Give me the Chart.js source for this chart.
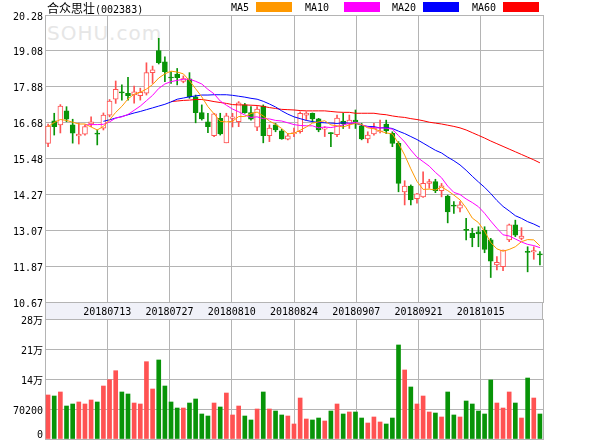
<!DOCTYPE html>
<html>
<head>
<meta charset="utf-8">
<title>合众思壮(002383)</title>
<script src="https://cdn.jsdelivr.net/npm/chart.js@4.4.0/dist/chart.umd.min.js"></script>
<style>
  html, body { margin: 0; padding: 0; background: #fff; }
  #wrap { position: relative; width: 600px; height: 440px; overflow: hidden; }
  #wrap canvas { position: absolute; left: 0; }
  #priceChart { top: 0; }
  #volChart { top: 310px; }
  #logo { position: absolute; left: 47px; top: 21px; font: 20px "DejaVu Sans", sans-serif; letter-spacing: 1px; color: #e6e6e6; }
  #title { position: absolute; left: 47px; top: 1px; font: 12px "Noto Sans CJK SC", sans-serif; line-height: 13px; color: #000; white-space: nowrap; }
  #title span { font: 10px "DejaVu Sans Mono", monospace; }
  .lg { position: absolute; top: 3px; font: 10px "DejaVu Sans Mono", monospace; line-height: 10px; color: #000; }
  .key { position: absolute; top: 2px; width: 36px; height: 10px; }
</style>
</head>
<body>
<div id="wrap">
  <div id="logo">SOHU.com</div>
  <canvas id="priceChart" width="600" height="319"></canvas>
  <canvas id="volChart" width="600" height="130"></canvas>
  <div id="title">合众思壮<span>(002383)</span></div>
</div>
<script>
// daily candles 2018-06-29 .. 2018-10-29, one entry per trading day
const gridDates = ['', '20180713', '20180727', '20180810', '20180824', '20180907', '20180921', '20181015', ''];
const priceTicks = [10.67, 11.87, 13.07, 14.27, 15.48, 16.68, 17.88, 19.08, 20.28];
const volTicks = [0, 70200, 140400, 210600, 280800];
const volTickLabels = ['0', '70200', '14万', '21万', '28万'];

const opens = [15.98, 16.74, 16.60, 17.07, 16.60, 16.23, 16.29, 16.63, 16.31, 16.49,
  16.93, 17.46, 17.71, 17.66, 17.60, 17.58, 17.66, 18.35, 19.09, 18.71,
  18.20, 18.30, 18.06, 18.14, 17.54, 17.01, 16.70, 16.24, 16.82, 16.00,
  16.82, 16.71, 17.27, 17.01, 16.52, 17.23, 16.24, 16.60, 16.40, 16.12,
  16.31, 16.37, 16.93, 16.99, 16.80, 16.46, 16.34, 16.27, 16.73, 16.65,
  16.76, 16.57, 16.13, 16.30, 16.37, 16.63, 16.32, 15.98, 14.36, 14.55,
  14.13, 14.19, 14.64, 14.70, 14.40, 14.22, 13.91, 13.81, 13.10, 12.97,
  13.02, 13.08, 12.75, 11.91, 11.85, 12.75, 13.25, 12.80, 12.36, 12.35, 12.28];
const highs = [16.63, 16.99, 17.28, 17.21, 16.79, 16.66, 16.60, 16.87, 16.43, 17.00,
  17.45, 18.07, 17.94, 18.19, 17.90, 17.83, 18.68, 18.57, 19.50, 18.88,
  18.38, 18.49, 18.24, 18.35, 17.60, 17.27, 16.99, 16.99, 16.99, 16.99,
  16.99, 17.38, 17.32, 17.21, 17.21, 17.27, 16.60, 16.65, 16.45, 16.32,
  16.49, 17.04, 17.04, 17.00, 16.82, 16.54, 16.34, 16.93, 16.99, 16.93,
  17.10, 16.65, 16.37, 16.65, 16.76, 16.76, 16.37, 16.04, 14.73, 14.59,
  14.31, 15.03, 14.78, 14.78, 14.64, 14.25, 14.03, 14.03, 13.47, 13.14,
  13.19, 13.19, 12.80, 12.19, 12.41, 13.28, 13.41, 13.16, 12.52, 12.52, 12.36];
const lows = [15.87, 16.26, 16.33, 16.71, 15.99, 15.96, 16.26, 16.54, 15.93, 16.43,
  16.87, 17.32, 17.43, 17.43, 17.33, 17.43, 17.60, 17.99, 18.64, 18.05,
  17.99, 17.94, 18.01, 17.49, 16.67, 16.76, 16.34, 16.21, 16.26, 16.00,
  16.53, 16.54, 16.99, 16.76, 16.41, 16.00, 16.04, 16.37, 16.12, 16.10,
  16.21, 16.32, 16.76, 16.70, 16.37, 16.21, 15.87, 16.21, 16.48, 16.48,
  16.48, 16.10, 16.00, 16.26, 16.33, 16.31, 15.87, 14.36, 13.92, 13.92,
  13.98, 14.17, 14.48, 14.33, 14.19, 13.32, 13.64, 13.69, 12.75, 12.52,
  12.52, 12.32, 11.49, 11.74, 11.72, 12.69, 12.86, 12.75, 11.68, 12.10, 11.91];
const closes = [16.56, 16.54, 17.23, 16.79, 16.32, 16.29, 16.54, 16.70, 16.29, 16.93,
  17.40, 17.79, 17.67, 17.58, 17.71, 17.69, 18.35, 18.44, 18.68, 18.38,
  18.17, 18.18, 18.15, 17.54, 17.01, 16.80, 16.54, 16.97, 16.30, 16.90,
  16.87, 17.34, 17.01, 16.79, 17.13, 16.24, 16.49, 16.43, 16.13, 16.23,
  16.33, 16.99, 16.99, 16.80, 16.43, 16.48, 16.31, 16.83, 16.63, 16.76,
  16.71, 16.13, 16.26, 16.49, 16.38, 16.40, 15.98, 14.64, 14.55, 14.09,
  14.29, 14.64, 14.70, 14.40, 14.56, 13.69, 13.88, 13.92, 13.07, 12.82,
  12.95, 12.43, 12.04, 12.00, 12.41, 13.25, 12.91, 12.88, 12.33, 12.39, 12.25];
const volumes = [103000, 100600, 110000, 77200, 81900, 86600, 81900, 91300, 86600, 124000,
  138800, 159800, 110000, 105300, 84200, 81900, 180900, 117000, 184900, 124000,
  86600, 72500, 72500, 84200, 93600, 58500, 53800, 84200, 74900, 107600,
  56200, 77200, 53800, 44500, 70200, 110000, 70200, 65500, 56200, 53800,
  35100, 95900, 46800, 44500, 49100, 42100, 65500, 81900, 58500, 63200,
  63200, 49100, 37400, 51500, 39800, 35100, 49100, 220000, 161500, 121700,
  81900, 100600, 63200, 60800, 51500, 110000, 56200, 51500, 88900, 81900,
  65500, 58500, 138100, 84200, 72500, 110000, 84200, 49100, 142700, 95900, 58500];

const ma5 = [16.54, 16.68, 16.78, 16.75, 16.69, 16.63, 16.63, 16.53, 16.43, 16.55,
  16.77, 17.02, 17.22, 17.47, 17.63, 17.69, 17.80, 17.95, 18.17, 18.31,
  18.40, 18.37, 18.31, 18.08, 17.81, 17.54, 17.21, 16.97, 16.72, 16.70,
  16.72, 16.88, 16.88, 16.98, 17.03, 16.90, 16.73, 16.62, 16.48, 16.30,
  16.32, 16.42, 16.53, 16.66, 16.70, 16.74, 16.60, 16.57, 16.53, 16.60,
  16.65, 16.61, 16.50, 16.47, 16.39, 16.33, 16.30, 15.98, 15.59, 15.13,
  14.71, 14.44, 14.45, 14.42, 14.52, 14.40, 14.25, 14.09, 13.82, 13.48,
  13.33, 13.04, 12.66, 12.45, 12.37, 12.43, 12.52, 12.69, 12.76, 12.75, 12.55];
const ma10 = [null, null, null, null, null, null, 16.60, 16.61, 16.61, 16.62,
  16.70, 16.83, 16.87, 16.95, 17.09, 17.23, 17.41, 17.59, 17.82, 17.97,
  18.05, 18.09, 18.13, 18.13, 18.06, 17.97, 17.79, 17.64, 17.40, 17.26,
  17.13, 17.04, 16.93, 16.85, 16.87, 16.81, 16.80, 16.75, 16.73, 16.67,
  16.61, 16.58, 16.57, 16.57, 16.50, 16.53, 16.51, 16.55, 16.60, 16.65,
  16.69, 16.61, 16.53, 16.50, 16.50, 16.49, 16.46, 16.24, 16.03, 15.76,
  15.52, 15.37, 15.22, 15.01, 14.83, 14.55, 14.34, 14.27, 14.12, 14.00,
  13.86, 13.64, 13.38, 13.14, 12.92, 12.88, 12.78, 12.68, 12.60, 12.56, 12.49];
const ma20 = [null, null, null, null, null, null, null, null, null, 16.72,
  16.77, 16.83, 16.88, 16.94, 17.00, 17.05, 17.11, 17.17, 17.23, 17.29,
  17.37, 17.46, 17.50, 17.54, 17.57, 17.60, 17.60, 17.61, 17.61, 17.61,
  17.59, 17.56, 17.53, 17.49, 17.46, 17.39, 17.30, 17.20, 17.07, 16.96,
  16.87, 16.81, 16.75, 16.71, 16.68, 16.67, 16.66, 16.65, 16.67, 16.66,
  16.65, 16.59, 16.55, 16.54, 16.50, 16.51, 16.48, 16.39, 16.31, 16.21,
  16.11, 15.99, 15.87, 15.75, 15.66, 15.52, 15.40, 15.26, 15.08, 14.88,
  14.69, 14.51, 14.30, 14.07, 13.87, 13.72, 13.56, 13.47, 13.36, 13.28, 13.18];
const ma60 = [null, null, null, null, null, null, null, null, null, null,
  null, null, null, null, null, null, null, null, null, null,
  17.38, 17.40, 17.42, 17.43, 17.45, 17.45, 17.42, 17.38, 17.35, 17.32,
  17.28, 17.27, 17.27, 17.26, 17.25, 17.22, 17.18, 17.15, 17.12, 17.11,
  17.10, 17.08, 17.07, 17.07, 17.07, 17.07, 17.05, 17.03, 17.02, 17.02,
  16.99, 16.99, 16.99, 16.99, 16.96, 16.94, 16.90, 16.87, 16.85, 16.81,
  16.78, 16.74, 16.69, 16.66, 16.63, 16.59, 16.55, 16.50, 16.43, 16.34,
  16.25, 16.16, 16.06, 15.97, 15.88, 15.79, 15.70, 15.61, 15.52, 15.43, 15.33];

const maNames = ['MA5', 'MA10', 'MA20', 'MA60'];
const maColors = ['#ff9900', '#ff00ff', '#0000ff', '#ff0000'];
const maSeries = [ma5, ma10, ma20, ma60];

const UP = '#ff5252';
const DOWN = '#089408';
const GRID = '#b4b4b4';
const tickFont = { family: '"DejaVu Sans Mono", "Noto Sans CJK SC", monospace', size: 10 };

const slotCount = closes.length;
const gridAt = Array.from({ length: 9 }, (_, k) => k * slotCount / 8);
const isUp = closes.map((c, i) => c >= opens[i]);
const candleColors = isUp.map(u => u ? UP : DOWN);
const pts = arr => arr.map((v, i) => ({ x: i + 0.5, y: v }));

// legend: name then colour key, like the original header
const legendPos = [[231, 256], [305, 344], [392, 423], [472, 503]];
const wrap = document.getElementById('wrap');
maNames.forEach((name, k) => {
  const t = document.createElement('div');
  t.className = 'lg';
  t.style.left = legendPos[k][0] + 'px';
  t.textContent = name;
  wrap.appendChild(t);
  const b = document.createElement('div');
  b.className = 'key';
  b.style.left = legendPos[k][1] + 'px';
  b.style.background = maColors[k];
  wrap.appendChild(b);
});

// light band under the price panel that carries the date labels
const dateBand = {
  id: 'dateBand',
  beforeDraw(chart) {
    const { ctx, chartArea } = chart;
    ctx.save();
    ctx.fillStyle = '#f0f1f8';
    ctx.fillRect(chartArea.left, chartArea.bottom, chartArea.right - chartArea.left, 17);
    ctx.strokeStyle = GRID;
    ctx.lineWidth = 1;
    ctx.strokeRect(chartArea.left + 0.5, chartArea.bottom + 0.5, chartArea.right - chartArea.left - 1, 17);
    ctx.restore();
  }
};

const xScale = (showLabels, height) => ({
  type: 'linear',
  min: 0,
  max: slotCount,
  offset: false,
  grid: { color: GRID, offset: false, drawTicks: false },
  border: { color: GRID },
  afterBuildTicks: s => { s.ticks = gridAt.map(v => ({ value: v })); },
  afterFit: s => { s.height = height; },
  ticks: {
    display: showLabels,
    autoSkip: false,
    maxRotation: 0,
    padding: 4,
    color: '#000',
    font: tickFont,
    callback: (v, i) => gridDates[i]
  }
});

const maDatasets = maSeries.map((s, k) => ({
  type: 'line',
  label: maNames[k],
  data: pts(s),
  borderColor: maColors[k],
  borderWidth: 1,
  pointRadius: 0,
  order: 1
}));

new Chart(document.getElementById('priceChart'), {
  type: 'bar',
  data: {
    datasets: [
      ...maDatasets,
      {
        label: 'wick',
        data: closes.map((c, i) => ({ x: i + 0.5, y: [lows[i], highs[i]] })),
        backgroundColor: candleColors,
        barThickness: 1,
        grouped: false,
        order: 6
      },
      {
        label: 'body',
        data: closes.map((c, i) => ({ x: i + 0.5, y: [opens[i], c] })),
        backgroundColor: isUp.map(u => u ? '#ffffff' : DOWN),
        borderColor: candleColors,
        borderWidth: 1,
        borderSkipped: false,
        barThickness: 5,
        minBarLength: 1,
        grouped: false,
        order: 5
      }
    ]
  },
  options: {
    responsive: false,
    animation: false,
    events: [],
    layout: { padding: { top: 15, right: 57, bottom: 0, left: 0 } },
    plugins: { legend: { display: false }, tooltip: { enabled: false } },
    scales: {
      x: xScale(true, 17),
      y: {
        min: 10.67,
        max: 20.28,
        grid: { color: GRID, drawTicks: false },
        border: { color: GRID },
        afterBuildTicks: s => { s.ticks = priceTicks.map(v => ({ value: v })); },
        afterFit: s => { s.width = 45; },
        ticks: { autoSkip: false, padding: 2, labelOffset: 2, color: '#000', font: tickFont, callback: v => v.toFixed(2) }
      }
    }
  },
  plugins: [dateBand]
});

new Chart(document.getElementById('volChart'), {
  type: 'bar',
  data: {
    datasets: [{
      label: 'volume',
      data: volumes.map((v, i) => ({ x: i + 0.5, y: v })),
      backgroundColor: candleColors,
      barThickness: 4,
      grouped: false
    }]
  },
  options: {
    responsive: false,
    animation: false,
    events: [],
    layout: { padding: { top: 9, right: 57, bottom: 1, left: 0 } },
    plugins: { legend: { display: false }, tooltip: { enabled: false } },
    scales: {
      x: xScale(false, 0),
      y: {
        min: 0,
        max: volTicks[volTicks.length - 1],
        grid: { color: GRID, drawTicks: false },
        border: { color: GRID },
        afterBuildTicks: s => { s.ticks = volTicks.map(v => ({ value: v })); },
        afterFit: s => { s.width = 45; s.paddingTop = 0; s.paddingBottom = 0; },
        ticks: {
          autoSkip: false,
          padding: 2,
          labelOffset: 2,
          color: '#000',
          font: tickFont,
          // the bottom label sits above the baseline in the original
          callback: (v, i) => i === 0 ? [volTickLabels[0], ''] : volTickLabels[i]
        }
      }
    }
  }
});
</script>
</body>
</html>
